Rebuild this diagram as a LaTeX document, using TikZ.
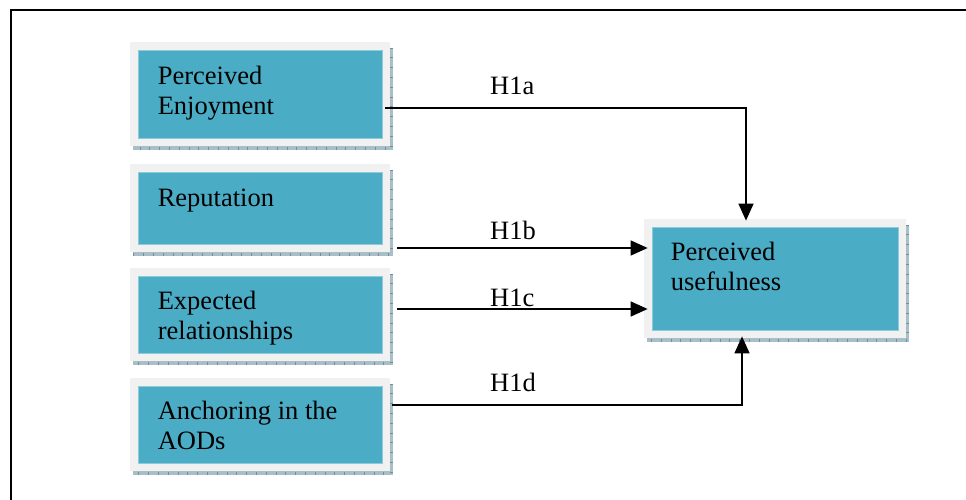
\documentclass[tikz,border=0pt]{standalone}
\usepackage{fontspec}
\setmainfont{Liberation Serif}
\usetikzlibrary{arrows.meta,backgrounds}
\pgfdeclarelayer{bottom}
\pgfsetlayers{bottom,background,main}
\definecolor{tealfill}{HTML}{4BACC6}
\definecolor{tealedge}{HTML}{8CCBDB}
\definecolor{framegrey}{HTML}{F1F1F1}
\definecolor{shadowc}{HTML}{A9BFC7}
\definecolor{tickc}{HTML}{6F8F9A}
\tikzset{
  tealbox/.style={fill=tealfill, draw=tealedge, line width=0.8pt, inner sep=0pt},
  txt/.style={font=\fontsize{26.5}{30}\selectfont, align=left, inner sep=0pt, anchor=base west},
  lbl/.style={font=\fontsize{26.5}{30}\selectfont, inner sep=0pt, anchor=base west},
  arr/.style={line width=1.6pt, -{Triangle[length=17pt,width=15pt]}},
}
\newcommand{\mybackdrop}[1]{%
  \begin{scope}[on background layer]
    \fill[shadowc] ([shift={(-5,-2)}]#1.north west) rectangle ([shift={(11,12)}]#1.south east);
    \draw[tickc, line width=3pt, dash pattern=on 0.8pt off 9pt]
      ([shift={(9.5,-2)}]#1.north east) -- ([shift={(9.5,10.5)}]#1.south east) -- ([shift={(-5,10.5)}]#1.south west);
    \fill[framegrey] ([shift={(-8,-8)}]#1.north west) rectangle ([shift={(8,8)}]#1.south east);
  \end{scope}}
\begin{document}
\begin{tikzpicture}[x=1pt,y=-1pt]
\begin{pgfonlayer}{bottom}
\fill[white] (0,0) rectangle (966,500);
\end{pgfonlayer}
\useasboundingbox (0,0) rectangle (966,500);
\draw[line width=2pt] (11,500) -- (11,10) -- (966,10);

\node[tealbox, minimum width=244pt, minimum height=88pt] (b1) at (260,94) {};
\node[tealbox, minimum width=244pt, minimum height=72pt] (b2) at (260,208) {};
\node[tealbox, minimum width=244pt, minimum height=77pt] (b3) at (260,314.5) {};
\node[tealbox, minimum width=244pt, minimum height=77pt] (b4) at (260,424.5) {};
\node[tealbox, minimum width=246pt, minimum height=103pt] (pu) at (775,278.5) {};
\mybackdrop{b1}\mybackdrop{b2}\mybackdrop{b3}\mybackdrop{b4}\mybackdrop{pu}

\node[txt] (t1) at ([shift={(20,65)}]b1.north west) {Perceived\\Enjoyment};
\node[txt] (t2) at ([shift={(20,35)}]b2.north west) {Reputation};
\node[txt] (t3) at ([shift={(20,64)}]b3.north west) {Expected\\relationships};
\node[txt] (t4) at ([shift={(20,64)}]b4.north west) {Anchoring in the\\AODs};
\node[txt] (t5) at ([shift={(19,64)}]pu.north west) {Perceived\\usefulness};

\node[lbl] (la) at (490,95) {H1a};
\node[lbl] (lb) at (490,239) {H1b};
\node[lbl] (lc) at (490,306) {H1c};
\node[lbl] (ld) at (490,391) {H1d};

\coordinate (s1) at ([shift={(3,14)}]b1.east);
\coordinate (s2) at ([shift={(15,40)}]b2.east);
\coordinate (s3) at ([shift={(15,-5.5)}]b3.east);
\coordinate (s4) at ([shift={(10,-19.5)}]b4.east);
\coordinate (pn) at ([shift={(-29,-6)}]pu.north);
\coordinate (pw) at ([shift={(-4,0)}]pu.west);
\coordinate (ps) at ([shift={(-33,6)}]pu.south);

\draw[arr] (s1) -| (pn);
\draw[arr] (s2) -- (s2 -| pw);
\draw[arr] (s3) -- (s3 -| pw);
\draw[arr] (s4) -| (ps);
\end{tikzpicture}
\end{document}
